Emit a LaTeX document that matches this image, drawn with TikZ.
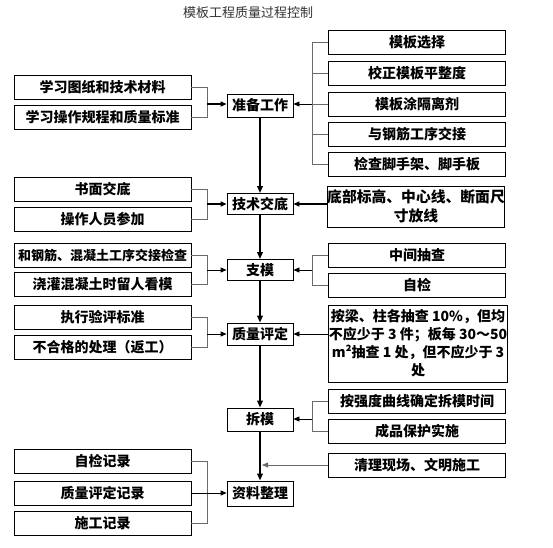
\documentclass[tikz,border=0pt]{standalone}
\usepackage{fontspec}
\usepackage{tikz}
\usetikzlibrary{calc,arrows.meta}
\newfontfamily\cjk{Noto Sans CJK SC}
\definecolor{linegray}{HTML}{6A6A6A}

\begin{document}
\begin{tikzpicture}[x=1pt,y=-1pt,
  box/.style={draw=black,line width=0.8pt,inner sep=0pt,minimum width=177pt,minimum height=24pt,font=\cjk\bfseries\fontsize{14}{18}\selectfont},
  mid/.style={box,minimum width=66pt},
  brk/.style={draw=linegray,line width=0.8pt},
  arr/.style={-{Triangle[length=6pt,width=5pt]},line width=0.8pt},
  main/.style={-{Triangle[length=7pt,width=5.5pt]},line width=1.8pt}]
\useasboundingbox (0,0) rectangle (553,547);
\node[font=\cjk\fontsize{13}{15}\selectfont,text=black!80] (title) at (248,13) {模板工程质量过程控制};
\foreach \n/\yy/\hh/\lab in {zb/105.5/23/准备工作,js/204/21/技术交底,zm/270/21/支模,pd/334/22/质量评定,cm/419.5/23/拆模,zl/493.5/25/资料整理}{
  \node[mid,minimum height=\hh pt] (\n) at (260,\yy) {\lab};}
\foreach \n/\yy/\lab in {a1/87/学习图纸和技术材料,a2/117/学习操作规程和质量标准,b1/189/书面交底,b2/219.5/操作人员参加,c1/255.5/{\fontsize{13}{15}\selectfont 和钢筋、混凝土工序交接检查},c2/284/浇灌混凝土时留人看模,d1/317.5/执行验评标准,d2/347.5/不合格的处理（返工）,f1/461.5/自检记录,f2/493/质量评定记录,f3/523/施工记录}{
  \node[box] (\n) at (102.5,\yy) {\lab};}
\foreach \n/\yy/\lab in {r1/42.5/模板选择,r2/73.5/校正模板平整度,r3/104/模板涂隔离剂,r4/134.5/与钢筋工序交接,r5/164/检查脚手架、脚手板,s1/255/中间抽查,s2/285/自检,t1/401.5/按强度曲线确定拆模时间,t2/431/成品保护实施,t3/465/清理现场、文明施工}{
  \node[box] (\n) at (417,\yy) {\lab};}
\node[box,minimum height=41pt,align=center,font=\cjk\bfseries\fontsize{14.8}{19}\selectfont] (rj) at (416,206.5) {底部标高、中心线、断面尺\\寸放线};
\node[box,minimum height=77pt,align=center] (rp) at (418,343.5) {按梁、柱各抽查 10\%，但均\\不应少于 3 件；板每 30～50\\m²抽查 1 处，但不应少于 3\\处};
\foreach \u/\v in {zb/js,js/zm,zm/pd,pd/cm,cm/zl}{\draw[main] (\u.south) -- (\v.north);}
\foreach \a/\b/\c/\yy/\w in {a1/a2/zb/104/1.6,b1/b2/js/204/1.6,c1/c2/zm/270/0.8,d1/d2/pd/334/0.8}{
  \coordinate (j\c) at (207,\yy);
  \draw[brk] (\a.east) -| (j\c);
  \draw[brk] (\b.east) -| (j\c);
  \draw[arr,line width=\w pt] (j\c) -- (j\c -| \c.west);}
\foreach \c/\yy/\lst in {zb/104/{r1,r2,r3,r4,r5},zm/270/{s1,s2},cm/419/{t1,t2}}{
  \coordinate (k\c) at (312,\yy);
  \foreach \n in \lst {\draw[brk] (\n.west) -| (k\c);}
  \draw[arr] (k\c) -- (k\c -| \c.east);}
\draw[arr,line width=1.6pt] (rj.west |- js.east) -- (js.east);
\draw[arr] (rp.west |- pd.east) -- (pd.east);
\draw[arr,draw=linegray] (t3.west) -- ($(t3.west -| zl.north)+(2,0)$);
\coordinate (jf) at (207,493);
\draw[brk] (f1.east) -| (jf);
\draw[brk] (f3.east) -| (jf);
\draw[arr] (f2.east) -- (f2.east -| zl.west);
\end{tikzpicture}
\end{document}
